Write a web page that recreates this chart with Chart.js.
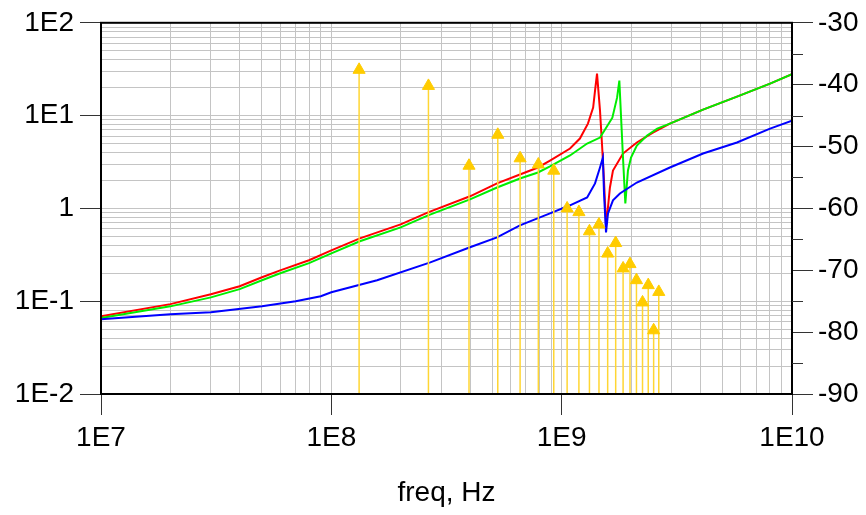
<!DOCTYPE html>
<html lang="en">
<head>
    <meta charset="UTF-8">
    <title>freq response</title>
    <style>
        html, body {
            margin: 0;
            padding: 0;
            background-color: #fff;
        }
        #wrap {
            width: 866px;
            height: 515px;
        }
    </style>
</head>
<body>
    <div id="wrap"><canvas id="chart" width="866" height="515"></canvas></div>

    <script src="https://cdn.jsdelivr.net/npm/chart.js"></script>

    <script>
        // red trace (left axis, log)
        const redFreq = [1e7, 2e7, 3e7, 4e7, 5e7, 6e7, 8e7, 1e8, 1.33e8, 2e8, 2.63e8, 4e8, 5.24e8, 6.59e8, 7.89e8, 8.9e8,
            1.087e9, 1.2e9, 1.3e9, 1.37e9, 1.396e9, 1.424e9, 1.467e9, 1.496e9, 1.527e9, 1.558e9, 1.589e9, 1.62e9, 1.67e9,
            1.846e9, 2.12e9, 2.49e9, 2.95e9, 4.11e9, 5.77e9, 8.03e9, 1e10];
        const redMag = [0.069, 0.093, 0.119, 0.145, 0.181, 0.215, 0.276, 0.353, 0.475, 0.673, 0.906, 1.35, 1.86, 2.32, 2.76, 3.28,
            4.42, 5.66, 8.2, 12.2, 18.6, 28.3, 11.3, 5.0, 2.0, 0.656, 1.03, 1.68, 2.56,
            3.9, 5.13, 6.56, 8.2, 11.6, 16.0, 22.1, 28];

        // green trace
        const greenFreq = [1e7, 2e7, 3e7, 4e7, 5e7, 6e7, 8e7, 1e8, 1.33e8, 2e8, 2.63e8, 4e8, 5.24e8, 6.59e8, 7.89e8, 8.9e8,
            1.087e9, 1.29e9, 1.467e9, 1.56e9, 1.66e9, 1.74e9, 1.78e9, 1.82e9, 1.846e9, 1.89e9, 1.94e9, 2.0e9, 2.12e9,
            2.35e9, 2.6e9, 2.95e9, 4.11e9, 5.77e9, 8.03e9, 1e10];
        const greenMag = [0.066, 0.088, 0.110, 0.135, 0.168, 0.200, 0.257, 0.328, 0.442, 0.625, 0.84, 1.25, 1.68, 2.1, 2.44, 2.83,
            3.72, 5.0, 5.8, 7.4, 9.5, 15.6, 23.8, 7.4, 3.53, 1.13, 2.56, 3.53, 4.75,
            6.1, 7.24, 8.2, 11.6, 16.0, 22.1, 28];

        // blue trace
        const blueFreq = [1e7, 2e7, 3e7, 5e7, 7e7, 9e7, 1e8, 1.58e8, 2.69e8, 4e8, 5.24e8, 6.59e8, 8.9e8, 1.087e9, 1.29e9,
            1.396e9, 1.467e9, 1.51e9, 1.527e9, 1.558e9, 1.589e9, 1.67e9, 1.79e9, 2.12e9, 2.95e9, 4.11e9, 5.77e9, 8.03e9, 1e10];
        const blueMag = [0.064, 0.0725, 0.076, 0.088, 0.1, 0.113, 0.125, 0.168, 0.262, 0.381, 0.488, 0.656, 0.883, 1.08, 1.31,
            1.86, 2.76, 3.53, 1.45, 0.552, 0.883, 1.22, 1.45, 1.9, 2.76, 3.9, 5.13, 7.24, 8.83];

        // yellow spectrum lines (right axis, dB)
        const stemFreq = [1.32e8, 2.64e8, 3.96e8, 5.28e8, 6.6e8, 7.92e8, 9.24e8, 1.056e9, 1.188e9, 1.32e9,
            1.452e9, 1.584e9, 1.716e9, 1.848e9, 1.98e9, 2.112e9, 2.244e9, 2.376e9, 2.508e9, 2.64e9];
        const stemDb = [-37.6, -40.2, -53.1, -48.1, -51.9, -52.9, -53.9, -60.0, -60.6, -63.7,
            -62.6, -67.3, -65.6, -69.7, -69.0, -71.6, -75.2, -72.4, -79.7, -73.5];

        const xDecades = [7, 8, 9, 10];
        const yDecades = [-2, -1, 0, 1, 2];
        const rightTicks = [-90, -80, -70, -60, -50, -40, -30];
        const rightMinor = [-85, -75, -65, -55, -45, -35];

        const font = { family: "'Liberation Sans', Arial, Helvetica, sans-serif", size: 28 };
        const gridGray = '#c4c4c4';

        const isDecade = v => Math.abs(Math.log10(v) - Math.round(Math.log10(v))) < 1e-9;
        const logLabel = v => {
            if (!isDecade(v)) return '';
            const e = Math.round(Math.log10(v));
            return e === 0 ? '1' : '1E' + e;
        };
        // 1..9 x 10^d for every decade, plus the last decade value
        const logTicks = decades => {
            const out = [];
            for (let i = 0; i < decades.length - 1; i++) {
                for (let s = 1; s <= 9; s++) {
                    out.push({ value: parseFloat((s * Math.pow(10, decades[i])).toPrecision(6)) });
                }
            }
            out.push({ value: Math.pow(10, decades[decades.length - 1]) });
            return out;
        };

        const pts = (xs, ys) => xs.map((x, i) => ({ x: x, y: ys[i] }));

        const stemPoints = [];
        stemFreq.forEach((f, i) => {
            stemPoints.push({ x: f, y: -90 });
            stemPoints.push({ x: f, y: stemDb[i] });
            stemPoints.push({ x: f, y: null });
        });

        const framePlugin = {
            id: 'frame',
            afterDraw(chart) {
                const { ctx, chartArea } = chart;
                const y2 = chart.scales.y2;
                ctx.save();
                ctx.strokeStyle = '#000';
                ctx.lineWidth = 2;
                ctx.strokeRect(chartArea.left, chartArea.top, chartArea.right - chartArea.left, chartArea.bottom - chartArea.top);
                ctx.lineWidth = 1;
                ctx.strokeStyle = '#333';
                rightMinor.forEach(v => {
                    const y = Math.round(y2.getPixelForValue(v)) + 0.5;
                    ctx.beginPath();
                    ctx.moveTo(chartArea.right, y);
                    ctx.lineTo(chartArea.right + 11, y);
                    ctx.stroke();
                });
                ctx.restore();
            }
        };

        new Chart(document.getElementById('chart').getContext('2d'), {
            type: 'line',
            data: {
                datasets: [
                    {
                        label: 'markers',
                        data: pts(stemFreq, stemDb),
                        yAxisID: 'y2',
                        showLine: false,
                        pointStyle: 'triangle',
                        pointRadius: 7,
                        backgroundColor: '#ffcc00',
                        borderColor: '#ffcc00',
                        borderWidth: 1,
                        order: 0
                    },
                    {
                        label: 'stems',
                        data: stemPoints,
                        yAxisID: 'y2',
                        borderColor: '#ffd633',
                        borderWidth: 1.5,
                        pointRadius: 0,
                        spanGaps: false,
                        order: 1
                    },
                    {
                        label: 'blue',
                        data: pts(blueFreq, blueMag),
                        yAxisID: 'y',
                        borderColor: '#0000ff',
                        borderWidth: 2,
                        pointRadius: 0,
                        order: 2
                    },
                    {
                        label: 'green',
                        data: pts(greenFreq, greenMag),
                        yAxisID: 'y',
                        borderColor: '#00ee00',
                        borderWidth: 2,
                        pointRadius: 0,
                        order: 3
                    },
                    {
                        label: 'red',
                        data: pts(redFreq, redMag),
                        yAxisID: 'y',
                        borderColor: '#ff0000',
                        borderWidth: 2,
                        pointRadius: 0,
                        order: 4
                    }
                ]
            },
            options: {
                responsive: false,
                animation: false,
                events: [],
                layout: { padding: { top: 22, left: 0, right: 0, bottom: 0 } },
                plugins: {
                    legend: { display: false },
                    tooltip: { enabled: false }
                },
                scales: {
                    x: {
                        type: 'logarithmic',
                        position: 'bottom',
                        min: 1e7,
                        max: 1e10,
                        afterBuildTicks: s => { s.ticks = logTicks(xDecades); },
                        afterFit: s => { s.height = 121; },
                        ticks: {
                            autoSkip: false,
                            maxRotation: 0,
                            padding: 6,
                            color: '#000',
                            font: font,
                            callback: v => logLabel(v)
                        },
                        grid: {
                            color: gridGray,
                            lineWidth: 1,
                            tickLength: 21,
                            tickColor: c => (c.tick && isDecade(c.tick.value)) ? '#333' : 'rgba(0,0,0,0)'
                        },
                        border: { display: true, color: '#000', width: 2 },
                        title: {
                            display: true,
                            text: 'freq, Hz',
                            color: '#000',
                            font: font,
                            padding: { top: 0, bottom: 5 }
                        }
                    },
                    y: {
                        type: 'logarithmic',
                        position: 'left',
                        min: 0.01,
                        max: 100,
                        afterBuildTicks: s => { s.ticks = logTicks(yDecades); },
                        afterFit: s => { s.width = 101; },
                        ticks: {
                            autoSkip: false,
                            padding: 6,
                            color: '#000',
                            font: font,
                            callback: v => logLabel(v)
                        },
                        grid: {
                            color: gridGray,
                            lineWidth: 1,
                            tickLength: 21,
                            tickColor: c => (c.tick && isDecade(c.tick.value)) ? '#333' : 'rgba(0,0,0,0)'
                        },
                        border: { display: true, color: '#000', width: 2 }
                    },
                    y2: {
                        type: 'linear',
                        position: 'right',
                        min: -90,
                        max: -30,
                        afterBuildTicks: s => { s.ticks = rightTicks.map(v => ({ value: v })); },
                        afterFit: s => { s.width = 74; },
                        ticks: {
                            autoSkip: false,
                            padding: 5,
                            color: '#000',
                            font: font
                        },
                        grid: {
                            drawOnChartArea: false,
                            tickLength: 21,
                            tickColor: '#333'
                        },
                        border: { display: true, color: '#000', width: 2 }
                    }
                }
            },
            plugins: [framePlugin]
        });
    </script>
</body>
</html>
